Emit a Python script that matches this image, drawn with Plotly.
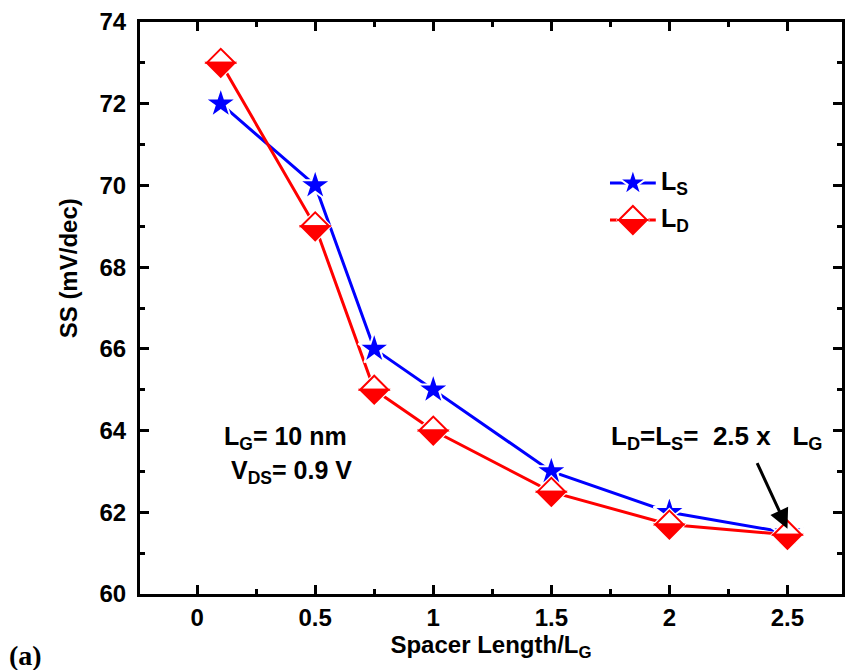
import math
import plotly.graph_objects as go

# ---- data ----
spacer = [0.1, 0.5, 0.75, 1.0, 1.5, 2.0, 2.5]
ss_ls = [72.0, 70.0, 66.0, 65.0, 63.0, 62.0, 61.5]
ss_ld = [73.0, 69.0, 65.0, 64.0, 62.5, 61.7, 61.45]
x_ticks = [0, 0.5, 1, 1.5, 2, 2.5]
x_ticklabels = ["0", "0.5", "1", "1.5", "2", "2.5"]
y_ticks = [60, 62, 64, 66, 68, 70, 72, 74]

BLUE = "#0000ff"
RED = "#ff0000"
FONT = "Liberation Sans, Arial, sans-serif"

W, H = 846, 670
ML, MR, MT, MB = 140, 1, 22, 76
PW, PH = W - ML - MR, H - MT - MB


def px(xp):
    return (xp - ML) / PW


def py(yp):
    return (H - MB - yp) / PH


fig = go.Figure()
fig.add_trace(go.Scatter(x=spacer, y=ss_ls, mode="lines",
                         line=dict(color=BLUE, width=3), showlegend=False))
fig.add_trace(go.Scatter(x=spacer, y=ss_ld, mode="lines",
                         line=dict(color=RED, width=3), showlegend=False))
fig.add_trace(go.Scatter(x=spacer, y=ss_ls, mode="markers",
                         marker=dict(symbol="star", size=24, color=BLUE,
                                     line=dict(color="white", width=2)),
                         showlegend=False))

R = 14  # diamond half-diagonal in px


def diamond_shapes(xa, ya, xref, yref, r=R):
    out = []
    out.append(dict(type="path", xref=xref, yref=yref, xsizemode="pixel", ysizemode="pixel",
                    xanchor=xa, yanchor=ya,
                    path=f"M {-(r+3)},0 L 0,{r+3} L {r+3},0 L 0,{-(r+3)} Z",
                    fillcolor="white", line=dict(width=0), layer="above"))
    out.append(dict(type="path", xref=xref, yref=yref, xsizemode="pixel", ysizemode="pixel",
                    xanchor=xa, yanchor=ya,
                    path=f"M {-r},0 L 0,{r} L {r},0 Z",
                    fillcolor="white", line=dict(color=RED, width=2), layer="above"))
    out.append(dict(type="path", xref=xref, yref=yref, xsizemode="pixel", ysizemode="pixel",
                    xanchor=xa, yanchor=ya,
                    path=f"M {-r},0 L 0,{-r} L {r},0 Z",
                    fillcolor=RED, line=dict(color=RED, width=2), layer="above"))
    return out


shapes = []
for xv, yv in zip(spacer, ss_ld):
    shapes += diamond_shapes(xv, yv, "x", "y")

# ---- manual legend ----
ly1, ly2 = py(183), py(220)
shapes.append(dict(type="line", xref="paper", yref="paper", x0=px(612), x1=px(658),
                   y0=ly1, y1=ly1, line=dict(color=BLUE, width=3)))
shapes.append(dict(type="line", xref="paper", yref="paper", x0=px(612), x1=px(658),
                   y0=ly2, y1=ly2, line=dict(color=RED, width=3)))
Ro, Ri = 14.5, 14.5 * 0.382
pts = []
for k in range(10):
    ang = math.radians(90 + 36 * k)
    rr = Ro if k % 2 == 0 else Ri
    pts.append((rr * math.cos(ang), rr * math.sin(ang)))
star_path = "M " + " L ".join(f"{a:.2f},{b:.2f}" for a, b in pts) + " Z"
shapes.append(dict(type="path", xref="paper", yref="paper", xsizemode="pixel", ysizemode="pixel",
                   xanchor=px(635), yanchor=ly1, path=star_path,
                   fillcolor=BLUE, line=dict(color="white", width=2)))
shapes += diamond_shapes(px(635), ly2, "paper", "paper")

bold = lambda s: dict(family=FONT, size=s, color="black", weight="bold")
NB = "\u00a0"

annotations = [
    dict(xref="paper", yref="paper", x=px(661), y=ly1, xanchor="left", yanchor="middle",
         text="L<sub>S</sub>", showarrow=False, font=bold(25)),
    dict(xref="paper", yref="paper", x=px(661), y=ly2, xanchor="left", yanchor="middle",
         text="L<sub>D</sub>", showarrow=False, font=bold(25)),
    dict(x=0.105, y=63.82, xanchor="left", yanchor="middle",
         text="L<sub>G</sub>= 10 nm", showarrow=False, font=bold(25)),
    dict(x=0.135, y=62.98, xanchor="left", yanchor="middle",
         text="V<sub>DS</sub>= 0.9 V", showarrow=False, font=bold(25)),
    dict(x=1.745, y=63.82, xanchor="left", yanchor="middle",
         text=f"L<sub>D</sub>=L<sub>S</sub>={NB} 2.5 x{NB}{NB} L<sub>G</sub>",
         showarrow=False, font=bold(26)),
    dict(x=2.5, y=61.6, text="", showarrow=True, ax=-31, ay=-67,
         arrowhead=2, arrowsize=1.3, arrowwidth=3, arrowcolor="black", standoff=0),
    dict(xref="paper", yref="paper", x=px(6), y=py(655), xanchor="left", yanchor="middle",
         text="(a)", showarrow=False,
         font=dict(family="Liberation Serif, Times New Roman, serif", size=28, color="black", weight="bold")),
    dict(xref="paper", yref="paper", x=px(68), y=py(268), xanchor="center", yanchor="middle",
         textangle=-90, text="SS (mV/dec)", showarrow=False, font=bold(24)),
]

axis_common = dict(showline=True, linewidth=3, linecolor="black", mirror="ticks",
                   ticks="inside", ticklen=9, tickwidth=2.5, tickcolor="black",
                   showgrid=False, zeroline=False,
                   tickfont=bold(24))

fig.update_layout(
    width=W, height=H, margin=dict(l=ML, r=MR, t=MT, b=MB),
    paper_bgcolor="white", plot_bgcolor="white", showlegend=False,
    shapes=shapes, annotations=annotations,
    xaxis=dict(range=[-0.242, 2.731], tickvals=x_ticks, ticktext=x_ticklabels,
               minor=dict(dtick=0.25, tick0=0, ticks="inside", ticklen=5, tickwidth=2.5, tickcolor="black"),
               title=dict(text="Spacer Length/L<sub>G</sub>", standoff=4, font=bold(24)),
               **axis_common),
    yaxis=dict(range=[60, 74], tickvals=y_ticks,
               minor=dict(dtick=1, tick0=60, ticks="inside", ticklen=5, tickwidth=2.5, tickcolor="black"),
               ticklabelstandoff=6,
               **axis_common),
)

fig.write_html("out.html")
